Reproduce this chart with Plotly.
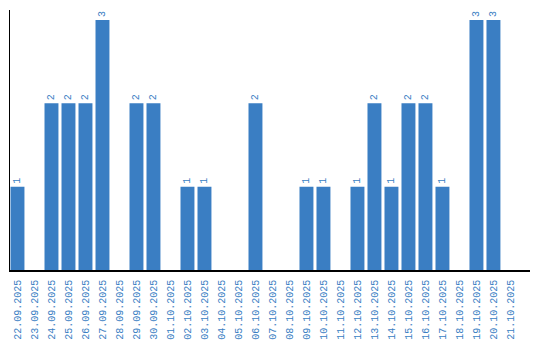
import plotly.graph_objects as go

dates = ["22.09.2025", "23.09.2025", "24.09.2025", "25.09.2025", "26.09.2025",
         "27.09.2025", "28.09.2025", "29.09.2025", "30.09.2025", "01.10.2025",
         "02.10.2025", "03.10.2025", "04.10.2025", "05.10.2025", "06.10.2025",
         "07.10.2025", "08.10.2025", "09.10.2025", "10.10.2025", "11.10.2025",
         "12.10.2025", "13.10.2025", "14.10.2025", "15.10.2025", "16.10.2025",
         "17.10.2025", "18.10.2025", "19.10.2025", "20.10.2025", "21.10.2025"]
counts = [1, 0, 2, 2, 2, 3, 0, 2, 2, 0,
          1, 1, 0, 0, 2, 0, 0, 1, 1, 0,
          1, 2, 1, 2, 2, 1, 0, 3, 3, 0]

blue = "#3a7ec3"
labels = [str(v) if v else "" for v in counts]

fig = go.Figure(go.Bar(
    x=dates, y=counts, text=labels, textposition="outside", textangle=-90,
    textfont=dict(family="Liberation Mono", size=10, color=blue),
    marker=dict(color=blue, line=dict(width=0)), cliponaxis=False,
))
fig.update_layout(
    width=540, height=340, margin=dict(l=10, r=10, t=10, b=70, autoexpand=False),
    paper_bgcolor="white", plot_bgcolor="white", bargap=0.18,
    showlegend=False,
)
fig.update_xaxes(type="category", range=[-0.44, 30.15], tickangle=-90,
                 tickfont=dict(family="Liberation Mono", size=10, color=blue),
                 showline=True, linecolor="black", linewidth=1.5,
                 showgrid=False, ticks="", ticklen=0, automargin=False,
                 ticklabelstandoff=4)
fig.update_yaxes(range=[0, 3.12], showticklabels=False, showgrid=False,
                 zeroline=False, showline=True, linecolor="black", linewidth=1,
                 automargin=False)
fig.write_html("out.html")
